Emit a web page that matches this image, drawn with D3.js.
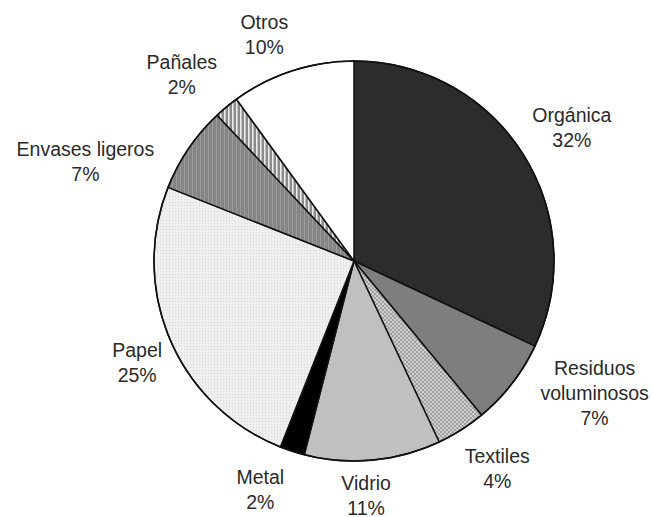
<!DOCTYPE html>
<html>
<head>
<meta charset="utf-8">
<script src="https://cdn.jsdelivr.net/npm/d3@7"></script>
<style>
  html, body { margin: 0; padding: 0; background: #fff; }
  svg { display: block; }
  text { font-family: "Liberation Sans", Arial, sans-serif; font-size: 19.5px; fill: #2a2a2a; }
</style>
</head>
<body>
<svg id="chart" width="652" height="517"></svg>
<script>
// ---- data ----
const categories = ["Orgánica", "Residuos\nvoluminosos", "Textiles", "Vidrio", "Metal", "Papel", "Envases ligeros", "Pañales", "Otros"];
const values = [32, 7, 4, 11, 2, 25, 7, 2, 10];
const fills = ["#2c2c2c", "#7e7e7e", "url(#dots)", "#c0c0c0", "#000000", "url(#fineDots)", "url(#vStripes)", "url(#wStripes)", "#ffffff"];
// label nudges relative to the computed label point (layout only)
const labelOffsets = [[11, -2], [47, -18], [12, 1], [-11, -9], [-18, -5], [8, 4], [-66, 38], [-16, 2], [-14, 6]];

// ---- layout ----
const cx = 354, cy = 261, radius = 200, labelRadius = 245, lineH = 25;

const svg = d3.select("#chart");
const defs = svg.append("defs");

// dotted pattern (Textiles)
const p1 = defs.append("pattern").attr("id", "dots").attr("patternUnits", "userSpaceOnUse").attr("width", 4).attr("height", 4);
p1.append("rect").attr("width", 4).attr("height", 4).attr("fill", "#cfcfcf");
p1.append("circle").attr("cx", 1).attr("cy", 1).attr("r", 1.1).attr("fill", "#9a9a9a");
p1.append("circle").attr("cx", 3).attr("cy", 3).attr("r", 1.1).attr("fill", "#9a9a9a");

// fine dots (Papel)
const p2 = defs.append("pattern").attr("id", "fineDots").attr("patternUnits", "userSpaceOnUse").attr("width", 3).attr("height", 3);
p2.append("rect").attr("width", 3).attr("height", 3).attr("fill", "#efefef");
p2.append("rect").attr("x", 1).attr("y", 1).attr("width", 1).attr("height", 1).attr("fill", "#d8d8d8");

// vertical stripes (Envases ligeros)
const p3 = defs.append("pattern").attr("id", "vStripes").attr("patternUnits", "userSpaceOnUse").attr("width", 4).attr("height", 4);
p3.append("rect").attr("width", 4).attr("height", 4).attr("fill", "#858585");
p3.append("rect").attr("x", 2).attr("width", 1).attr("height", 4).attr("fill", "#9c9c9c");

// white/gray stripes (Pañales)
const p4 = defs.append("pattern").attr("id", "wStripes").attr("patternUnits", "userSpaceOnUse").attr("width", 4).attr("height", 4);
p4.append("rect").attr("width", 4).attr("height", 4).attr("fill", "#8c8c8c");
p4.append("rect").attr("x", 2).attr("width", 1.5).attr("height", 4).attr("fill", "#f0f0f0");

const data = categories.map((c, i) => ({ name: c, value: values[i], fill: fills[i], off: labelOffsets[i] }));

const pie = d3.pie().sort(null).value(d => d.value);
const arcs = pie(data);
const arc = d3.arc().innerRadius(0).outerRadius(radius);
const labelArc = d3.arc().innerRadius(labelRadius).outerRadius(labelRadius);

const g = svg.append("g").attr("transform", `translate(${cx},${cy})`);

g.selectAll("path.slice")
  .data(arcs)
  .join("path")
  .attr("class", "slice")
  .attr("d", arc)
  .attr("fill", d => d.data.fill)
  .attr("stroke", "#111")
  .attr("stroke-width", 1.5)
  .attr("stroke-linejoin", "round");

g.append("circle").attr("r", radius).attr("fill", "none").attr("stroke", "#111").attr("stroke-width", 1.5);

const labels = g.selectAll("text.lbl")
  .data(arcs)
  .join("text")
  .attr("class", "lbl")
  .attr("text-anchor", "middle");

labels.each(function(d) {
  const [lx, ly] = labelArc.centroid(d);
  const x = lx + d.data.off[0];
  const y = ly + d.data.off[1];
  const lines = d.data.name.split("\n").concat([d.data.value + "%"]);
  const n = lines.length;
  const t = d3.select(this);
  lines.forEach((s, i) => {
    t.append("tspan")
      .attr("x", x)
      .attr("y", y + (i - (n - 1) / 2) * lineH + 7)
      .text(s);
  });
});
</script>
</body>
</html>
